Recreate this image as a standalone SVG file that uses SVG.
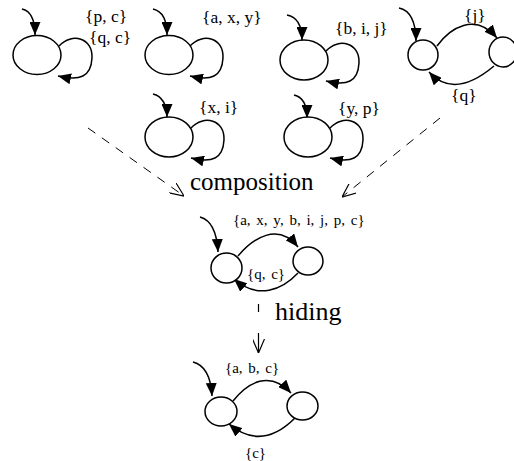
<svg xmlns="http://www.w3.org/2000/svg" width="514" height="461" viewBox="0 0 514 461">
<style>
.st{fill:#fff;stroke:#000;stroke-width:1.5}
.e{fill:none;stroke:#000;stroke-width:1.5}
.d{fill:none;stroke:#000;stroke-width:1;stroke-dasharray:9 8}
.lb{font-family:"Liberation Serif",serif;font-size:17.5px;fill:#000}
.sm{font-family:"Liberation Serif",serif;font-size:15px;word-spacing:2px;fill:#000}
.big{font-family:"Liberation Serif",serif;font-size:25px;fill:#000}
</style>
<defs>
<marker id="ah" viewBox="0 0 13 11" refX="13" refY="5.5" markerWidth="13" markerHeight="11" markerUnits="userSpaceOnUse" orient="auto"><path d="M0,0 L13,5.5 L0,11 z" fill="#000"/></marker>
<marker id="oa" viewBox="0 0 14 12" refX="14" refY="6" markerWidth="14" markerHeight="12" markerUnits="userSpaceOnUse" orient="auto"><path d="M0,0 L14,6 L0,12" fill="none" stroke="#000" stroke-width="1.2"/></marker>
</defs>
<g id="connectors">
<path class="e" d="M22,9 C31,11 35,20 35,35" marker-end="url(#ah)"/>
<path class="e" d="M59,46 C72,32 93,38 92,58 C91,77 80,81 58,76" marker-end="url(#ah)"/>
<path class="e" d="M153,9 C162,11 167,20 167,35" marker-end="url(#ah)"/>
<path class="e" d="M190,46 C203,32 224,38 223,58 C222,77 211,81 190,76" marker-end="url(#ah)"/>
<path class="e" d="M287,15 C297,17 302,26 302,40" marker-end="url(#ah)"/>
<path class="e" d="M326,51 C339,37 360,43 359,63 C358,82 347,86 326,81" marker-end="url(#ah)"/>
<path class="e" d="M399,8 C410,10 416,22 416,41" marker-end="url(#ah)"/>
<path class="e" d="M437,46 C450,28 475,12 497,38" marker-end="url(#ah)"/>
<path class="e" d="M494,66 C475,82 450,95 429,72" marker-end="url(#ah)"/>
<path class="e" d="M153,94 C162,96 167,105 167,117" marker-end="url(#ah)"/>
<path class="e" d="M191,128 C204,114 225,120 224,140 C223,159 212,163 191,158" marker-end="url(#ah)"/>
<path class="e" d="M294,95 C303,97 307,106 307,118" marker-end="url(#ah)"/>
<path class="e" d="M330,128 C343,114 364,120 363,140 C362,159 351,163 330,158" marker-end="url(#ah)"/>
<path class="d" d="M88,128 L184,196" marker-end="url(#oa)"/>
<path class="d" d="M440,118 L342,197" marker-end="url(#oa)"/>
<path class="e" d="M200,217 C211,220 217,233 218,252" marker-end="url(#ah)"/>
<path class="e" d="M238,256 C253,238 278,222 298,247" marker-end="url(#ah)"/>
<path class="e" d="M298,273 C282,290 258,300 234,279" marker-end="url(#ah)"/>
<path class="e" d="M258.5,304 L258.5,353" style="stroke-width:1.2;stroke-dasharray:8 21 20" marker-end="url(#oa)"/>
<path class="e" d="M193,362 C205,365 211,378 212,396" marker-end="url(#ah)"/>
<path class="e" d="M233,401 C248,382 270,370 291,393" marker-end="url(#ah)"/>
<path class="e" d="M295,418 C278,435 255,446 229,424" marker-end="url(#ah)"/>
</g>
<g id="n1"><ellipse class="st" cx="37" cy="55" rx="24" ry="19.5"/><text class="lb" x="85" y="22">{p, c}</text><text class="lb" x="89" y="43">{q, c}</text></g>
<g id="n2"><ellipse class="st" cx="169" cy="55" rx="24" ry="19.5"/><text class="lb" x="202" y="23">{a, x, y}</text></g>
<g id="n3"><ellipse class="st" cx="304" cy="60" rx="24" ry="20"/><text class="lb" x="335" y="34">{b, i, j}</text></g>
<g id="n4a"><ellipse class="st" cx="423" cy="55" rx="15" ry="15"/><text class="lb" x="464" y="21">{j}</text><text class="lb" x="451" y="101">{q}</text></g>
<g id="n4b"><ellipse class="st" cx="503" cy="52" rx="14" ry="15"/></g>
<g id="n5"><ellipse class="st" cx="169" cy="137" rx="24" ry="20"/><text class="lb" x="199" y="113">{x, i}</text></g>
<g id="n6"><ellipse class="st" cx="308" cy="137" rx="24" ry="20"/><text class="lb" x="338" y="114">{y, p}</text></g>
<text class="big" x="190" y="190">composition</text>
<g id="c1"><ellipse class="st" cx="226.5" cy="268" rx="15.5" ry="15"/><text class="sm" x="233" y="225">{a, x, y, b, i, j, p, c}</text><text class="sm" x="247" y="279">{q, c}</text></g>
<g id="c2"><ellipse class="st" cx="308" cy="261" rx="15" ry="14"/></g>
<text class="big" x="275" y="320" style="font-size:26px">hiding</text>
<g id="f1"><ellipse class="st" cx="221" cy="411.5" rx="16" ry="14.5"/><text class="sm" x="225" y="373">{a, b, c}</text><text class="sm" x="245" y="458">{c}</text></g>
<g id="f2"><ellipse class="st" cx="302.5" cy="406" rx="15.5" ry="14"/></g>
</svg>
